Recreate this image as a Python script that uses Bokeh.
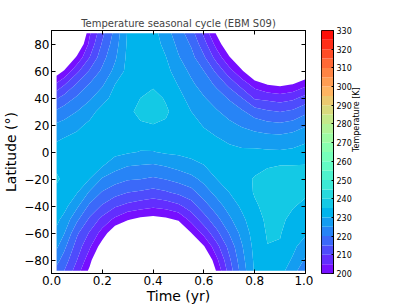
import math
import numpy as np
from bokeh.plotting import figure
from bokeh.layouts import row
from bokeh.models import (LinearAxis, FixedTicker, Range1d, NumeralTickFormatter)
from bokeh.embed import file_html
from bokeh.resources import INLINE

# ---------------- data ----------------
time_yr = [0.02, 0.05, 0.10, 0.15, 0.20, 0.25, 0.30, 0.35, 0.40, 0.45, 0.50,
           0.55, 0.60, 0.65, 0.70, 0.75, 0.80, 0.85, 0.90, 0.95, 1.00]
latitude = [-88, -80, -70, -60, -50, -40, -30, -20, -10, 0,
            10, 20, 30, 40, 50, 60, 70, 80, 88]

# temperature [K] along time, one list per latitude
T_S88 = [218.2, 215.0, 207.5, 198.8, 185.0, 178.0, 172.0, 170.0, 168.0, 169.0, 172.0,
         180.0, 187.0, 200.7, 212.3, 222.2, 230.6, 231.8, 231.5, 227.6, 220.2]
T_S80 = [221.8, 217.7, 210.1, 202.0, 190.0, 182.0, 178.0, 175.0, 173.0, 174.0, 177.0,
         186.0, 192.4, 203.8, 214.0, 223.3, 231.0, 232.5, 232.3, 229.5, 224.2]
T_S70 = [225.9, 221.3, 212.8, 205.8, 197.2, 188.0, 185.0, 182.0, 180.0, 181.0, 184.0,
         193.0, 199.6, 208.3, 216.7, 224.6, 231.6, 234.9, 234.6, 231.0, 227.8]
T_S60 = [228.8, 225.3, 215.9, 209.5, 203.0, 195.5, 192.4, 189.5, 188.0, 189.0, 191.9,
         199.9, 206.5, 213.6, 220.3, 226.6, 232.3, 235.4, 235.3, 232.5, 230.6]
T_S50 = [231.2, 228.4, 221.0, 214.1, 208.4, 203.8, 200.4, 198.6, 197.9, 198.7, 200.8,
         206.6, 212.7, 218.4, 224.0, 228.8, 233.2, 235.8, 235.8, 234.0, 232.5]
T_S40 = [233.0, 231.7, 226.0, 219.0, 214.4, 210.7, 208.5, 207.2, 206.1, 207.0, 208.9,
         212.7, 217.9, 222.7, 227.1, 231.0, 234.3, 236.5, 236.6, 235.3, 234.1]
T_S30 = [234.4, 233.7, 230.3, 224.4, 219.5, 217.0, 215.0, 214.2, 213.2, 214.4, 216.1,
         218.2, 222.5, 226.6, 230.0, 232.5, 235.4, 236.8, 237.0, 236.2, 235.6]
T_S20 = [235.3, 234.6, 232.0, 230.0, 224.5, 222.1, 220.5, 220.1, 219.2, 220.2, 221.6,
         223.4, 226.5, 230.0, 231.3, 233.8, 235.3, 236.2, 236.5, 236.5, 236.3]
T_S10 = [234.6, 234.0, 233.0, 231.8, 230.4, 227.1, 225.3, 224.8, 224.4, 225.4, 226.8,
         228.5, 229.9, 231.8, 232.0, 233.0, 234.0, 234.7, 235.0, 235.1, 235.2]
T_EQ = [232.0, 232.3, 232.6, 232.8, 232.2, 231.5, 230.6, 229.8, 229.8, 230.7, 231.0,
        231.5, 232.0, 232.0, 231.2, 230.8, 231.0, 230.7, 230.6, 231.0, 232.0]
T_N10 = [229.3, 230.2, 231.3, 232.2, 233.0, 233.0, 232.3, 232.0, 232.2, 232.5, 232.5,
         232.6, 231.5, 230.3, 229.1, 228.1, 227.4, 226.8, 226.7, 227.5, 228.8]
T_N20 = [225.7, 226.6, 228.8, 231.0, 233.0, 233.5, 233.5, 234.6, 234.9, 234.5, 233.5,
         231.8, 229.6, 227.9, 226.2, 224.4, 222.7, 221.6, 221.0, 222.1, 224.4]
T_N30 = [220.9, 222.4, 225.0, 228.2, 231.8, 233.0, 234.2, 235.9, 236.8, 235.6, 233.2,
         230.0, 227.5, 225.5, 223.0, 220.7, 217.5, 215.6, 214.8, 215.9, 218.7]
T_N40 = [214.3, 216.9, 220.8, 224.2, 228.1, 231.8, 233.5, 235.0, 236.3, 234.6, 231.7,
         228.0, 225.4, 222.5, 219.4, 215.0, 209.3, 208.5, 207.5, 208.8, 211.8]
T_N50 = [206.1, 209.6, 215.6, 220.4, 224.3, 230.0, 232.5, 234.0, 234.4, 233.0, 229.7,
         226.0, 222.8, 219.0, 213.6, 207.9, 203.0, 199.9, 198.9, 200.2, 203.6]
T_N60 = [196.6, 200.5, 208.7, 215.5, 221.0, 226.4, 231.5, 233.5, 233.4, 231.5, 227.6,
         223.9, 220.0, 213.8, 206.9, 200.7, 193.0, 190.0, 189.0, 190.5, 194.4]
T_N70 = [187.0, 191.0, 201.1, 210.0, 218.2, 224.2, 231.2, 233.0, 232.8, 230.2, 225.4,
         221.7, 215.8, 208.0, 200.6, 193.7, 186.0, 181.0, 180.0, 182.0, 185.0]
T_N80 = [179.0, 183.0, 192.6, 206.4, 215.6, 222.7, 230.8, 232.6, 232.3, 228.5, 223.7,
         219.4, 212.0, 203.1, 194.6, 187.0, 180.0, 175.0, 174.0, 175.0, 177.0]
T_N88 = [173.0, 177.0, 186.0, 204.3, 213.7, 221.6, 230.5, 232.3, 232.0, 227.0, 222.4,
         217.2, 208.8, 199.3, 190.0, 182.0, 176.0, 171.0, 170.0, 171.0, 171.0]

levels = list(range(200, 335, 5))           # contour levels [K]
cbar_ticks = list(range(200, 340, 10))
x_ticks = [0.0, 0.2, 0.4, 0.6, 0.8, 1.0]
y_ticks = [-80, -60, -40, -20, 0, 20, 40, 60, 80]
y_tick_labels = ["\u221280", "\u221260", "\u221240", "\u221220", "0", "20", "40", "60", "80"]

title_text = "Temperature seasonal cycle (EBM S09)"
x_label = "Time (yr)"
y_label = "Latitude (\u00b0)"
cbar_label = "Temperature [K]"

# ---------------- styling ----------------
FONT = "DejaVu Sans"
FRAME_H = 243
TOP = 30
BOTTOM = 33


def rainbow(frac):
    r = min(1.0, abs(2 * frac - 0.5))
    g = math.sin(math.pi * frac)
    b = math.cos(math.pi * frac / 2)
    return "#%02x%02x%02x" % tuple(int(round(255 * max(0.0, min(1.0, c)))) for c in (r, g, b))


lo_l, hi_l = levels[0], levels[-1]
band_colors = [rainbow(((a + b) / 2 - lo_l) / (hi_l - lo_l)) for a, b in zip(levels[:-1], levels[1:])]

Z = np.array([T_S88, T_S80, T_S70, T_S60, T_S50, T_S40, T_S30, T_S20, T_S10, T_EQ,
              T_N10, T_N20, T_N30, T_N40, T_N50, T_N60, T_N70, T_N80, T_N88])

# ---------------- main contour plot ----------------
p = figure(frame_width=254, frame_height=FRAME_H,
           x_range=Range1d(0, 1), y_range=Range1d(-90, 90),
           output_backend="svg", toolbar_location=None,
           min_border_left=51, min_border_right=8, min_border_top=TOP, min_border_bottom=BOTTOM,
           title=title_text)
p.background_fill_color = "white"
p.border_fill_color = "white"
p.outline_line_color = "black"
p.outline_line_width = 1
p.xgrid.visible = False
p.ygrid.visible = False

p.title.align = "center"
p.title.text_font = FONT
p.title.text_font_size = "10px"
p.title.text_font_style = "normal"
try:
    p.title.standoff = 3
except Exception:
    pass

p.contour(x=time_yr, y=latitude, z=Z, levels=levels,
          fill_color=band_colors, line_color=None)

xa = p.xaxis[0]
xa.ticker = FixedTicker(ticks=x_ticks)
xa.formatter = NumeralTickFormatter(format="0.0")
ya = p.yaxis[0]
ya.ticker = FixedTicker(ticks=y_ticks)
ya.major_label_overrides = {t: s for t, s in zip(y_ticks, y_tick_labels)}
xa.axis_label = x_label
ya.axis_label = y_label
for ax in (xa, ya):
    ax.axis_line_color = "black"
    ax.major_tick_line_color = "black"
    ax.major_tick_in = 4
    ax.major_tick_out = 0
    ax.minor_tick_line_color = None
    ax.major_label_text_font = FONT
    ax.major_label_text_font_size = "12px"
    ax.major_label_text_color = "black"
    ax.major_label_standoff = 2
    ax.axis_label_text_font = FONT
    ax.axis_label_text_font_size = "14px"
    ax.axis_label_text_font_style = "normal"
    ax.axis_label_text_color = "black"
xa.axis_label_standoff = 0
ya.axis_label_standoff = 2

# tick marks on the top and right edges (no labels, like the reference)
top_ax = LinearAxis(ticker=FixedTicker(ticks=x_ticks), major_label_text_color=None,
                    major_label_text_font_size="1px", major_tick_in=4, major_tick_out=0,
                    minor_tick_line_color=None, major_label_standoff=0, axis_line_color="black")
p.add_layout(top_ax, "above")
right_ax = LinearAxis(ticker=FixedTicker(ticks=y_ticks), major_label_text_color=None,
                      major_label_text_font_size="1px", major_tick_in=4, major_tick_out=0,
                      minor_tick_line_color=None, major_label_standoff=0, axis_line_color="black")
p.add_layout(right_ax, "right")

# ---------------- colour bar (own small figure) ----------------
cb = figure(frame_width=12, frame_height=FRAME_H,
            x_range=Range1d(0, 1), y_range=Range1d(lo_l, hi_l),
            x_axis_location=None, y_axis_location="right",
            output_backend="svg", toolbar_location=None,
            min_border_left=8, min_border_right=36, min_border_top=TOP, min_border_bottom=BOTTOM)
cb.background_fill_color = "white"
cb.border_fill_color = "white"
cb.outline_line_color = "black"
cb.xgrid.visible = False
cb.ygrid.visible = False
cb.quad(left=0, right=1, bottom=levels[:-1], top=levels[1:],
        fill_color=band_colors, line_color=None)
cy = cb.yaxis[0]
cy.ticker = FixedTicker(ticks=cbar_ticks)
cy.axis_line_color = "black"
cy.major_tick_line_color = "black"
cy.major_tick_in = 2
cy.major_tick_out = 0
cy.minor_tick_line_color = None
cy.major_label_text_font = FONT
cy.major_label_text_font_size = "8px"
cy.major_label_text_color = "black"
cy.major_label_standoff = 3
cy.axis_label = cbar_label
cy.axis_label_text_font = FONT
cy.axis_label_text_font_size = "8px"
cy.axis_label_text_font_style = "normal"
cy.axis_label_text_color = "black"
cy.axis_label_standoff = 2
try:
    cy.axis_label_orientation = math.pi / 2
except Exception:
    pass

layout = row(p, cb)
open("out.html", "w").write(file_html(layout, INLINE))
